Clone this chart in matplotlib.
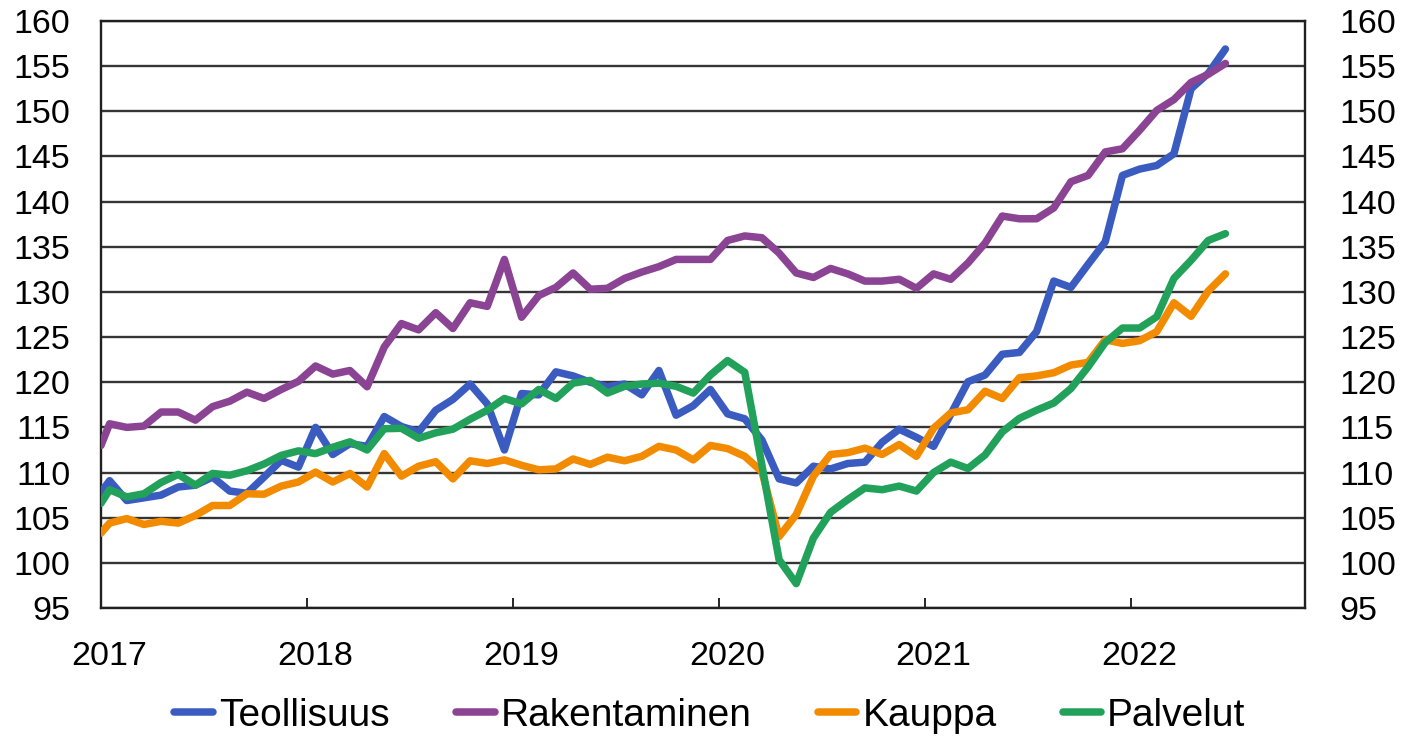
import matplotlib
matplotlib.use("Agg")
import matplotlib.pyplot as plt
from matplotlib.transforms import ScaledTranslation
import numpy as np

plt.rcParams['font.family'] = ['Liberation Sans', 'DejaVu Sans']

# Month positions: first value sits at the axis start (1.1.2017), then mid-month Jan 2017 .. Jun 2022
start_year = 2017
n_months = 66

teollisuus = [107.8,
    109.1, 106.9, 107.2, 107.5, 108.4, 108.6, 109.5, 107.95, 107.7, 109.5, 111.35, 110.6,
    115.0, 112.0, 113.2, 112.9, 116.2, 115.1, 114.5, 116.9, 118.1, 119.8, 117.6, 112.5,
    118.75, 118.6, 121.15, 120.7, 120.0, 119.5, 119.8, 118.6, 121.3, 116.35, 117.4, 119.2,
    116.5, 115.95, 113.6, 109.3, 108.85, 110.7, 110.4, 111.0, 111.15, 113.35, 114.8, 113.9,
    112.9, 116.45, 120.05, 120.8, 123.1, 123.3, 125.6, 131.2, 130.5, 133.05, 135.55, 142.9,
    143.6, 144.0, 145.3, 152.5, 154.2, 156.9]

rakentaminen = [113.0,
    115.4, 115.0, 115.15, 116.7, 116.7, 115.8, 117.3, 117.9, 118.9, 118.2, 119.2, 120.1,
    121.8, 120.9, 121.3, 119.5, 123.9, 126.5, 125.8, 127.7, 125.95, 128.8, 128.4, 133.6,
    127.2, 129.6, 130.5, 132.1, 130.3, 130.4, 131.5, 132.2, 132.8, 133.6, 133.6, 133.6,
    135.7, 136.2, 136.0, 134.3, 132.1, 131.6, 132.6, 132.0, 131.2, 131.2, 131.4, 130.4,
    132.0, 131.4, 133.2, 135.4, 138.4, 138.1, 138.1, 139.3, 142.2, 142.9, 145.5, 145.85,
    147.9, 150.1, 151.3, 153.2, 154.1, 155.3]

kauppa = [103.3,
    104.4, 104.9, 104.25, 104.6, 104.4, 105.25, 106.35, 106.35, 107.65, 107.6, 108.5, 108.95,
    110.05, 108.95, 109.9, 108.4, 112.1, 109.6, 110.7, 111.2, 109.3, 111.3, 111.0, 111.4,
    110.8, 110.3, 110.4, 111.5, 110.9, 111.7, 111.3, 111.8, 112.9, 112.5, 111.4, 113.0,
    112.65, 111.8, 110.1, 102.9, 105.35, 109.6, 112.0, 112.2, 112.7, 112.0, 113.1, 111.8,
    114.9, 116.6, 116.95, 119.0, 118.2, 120.5, 120.7, 121.05, 121.9, 122.2, 124.7, 124.3,
    124.6, 125.6, 128.8, 127.3, 130.1, 132.0]

palvelut = [106.6,
    108.1, 107.3, 107.65, 108.9, 109.8, 108.6, 109.9, 109.7, 110.2, 110.95, 111.9, 112.4,
    112.1, 112.8, 113.4, 112.5, 114.85, 114.9, 113.8, 114.4, 114.8, 115.9, 116.9, 118.2,
    117.6, 119.2, 118.2, 119.9, 120.2, 118.8, 119.55, 119.8, 119.9, 119.55, 118.8, 120.8,
    122.4, 121.1, 110.8, 100.35, 97.7, 102.75, 105.6, 107.0, 108.3, 108.1, 108.5, 107.95,
    110.0, 111.15, 110.45, 111.95, 114.5, 116.0, 116.9, 117.7, 119.3, 121.7, 124.4, 126.0,
    126.0, 127.25, 131.5, 133.5, 135.7, 136.45]

series_names = ['Teollisuus', 'Rakentaminen', 'Kauppa', 'Palvelut']
series_colors = ['#3A5CC0', '#8B4393', '#F28B00', '#22A15A']

year_ticks = [2017, 2018, 2019, 2020, 2021, 2022]
y_ticks = list(range(95, 161, 5))

x = np.concatenate([[start_year], start_year + (np.arange(n_months) + 0.5) / 12])

fig = plt.figure(figsize=(14.01, 7.36), dpi=100)
ax = fig.add_axes([101/1401, 1 - 608/736, (1305-101)/1401, (608-21)/736])

for data, name, col in zip([teollisuus, rakentaminen, kauppa, palvelut], series_names, series_colors):
    ax.plot(x, data, color=col, lw=5.4, label=name, solid_capstyle='round', solid_joinstyle='round', zorder=3)

ax.set_xlim(2017, 2017 + 1204/206)
ax.set_ylim(95, 160)
ax.set_yticks(y_ticks)
ax.set_xticks(year_ticks)
ax.set_xticklabels([str(y) for y in year_ticks])
ax.grid(axis='y', color='#353535', lw=1.7, zorder=1)
ax.grid(axis='x', visible=False)
for s in ax.spines.values():
    s.set_color('#202020')
    s.set_linewidth(1.7)

ax.tick_params(axis='y', length=0, labelsize=24.5, pad=22)
ax.tick_params(axis='x', direction='in', length=7, width=1.2, labelsize=24.5, pad=24)
for lab in ax.get_xticklabels():
    lab.set_transform(lab.get_transform() + ScaledTranslation(8/100, 0, fig.dpi_scale_trans))

# right-hand duplicate of the value axis
axr = ax.twinx()
axr.set_ylim(ax.get_ylim())
axr.set_yticks(y_ticks)
axr.tick_params(axis='y', length=0, labelsize=24.5, pad=25)
for s in axr.spines.values():
    s.set_visible(False)

leg = fig.legend(handles=ax.get_lines(), loc='center', bbox_to_anchor=(710/1401, 1 - 716/736), ncol=4,
                 frameon=False, fontsize=28, handlelength=1.0, handletextpad=0.15, columnspacing=1.7,
                 borderaxespad=0, borderpad=0)

fig.savefig('out.png', dpi=100)
